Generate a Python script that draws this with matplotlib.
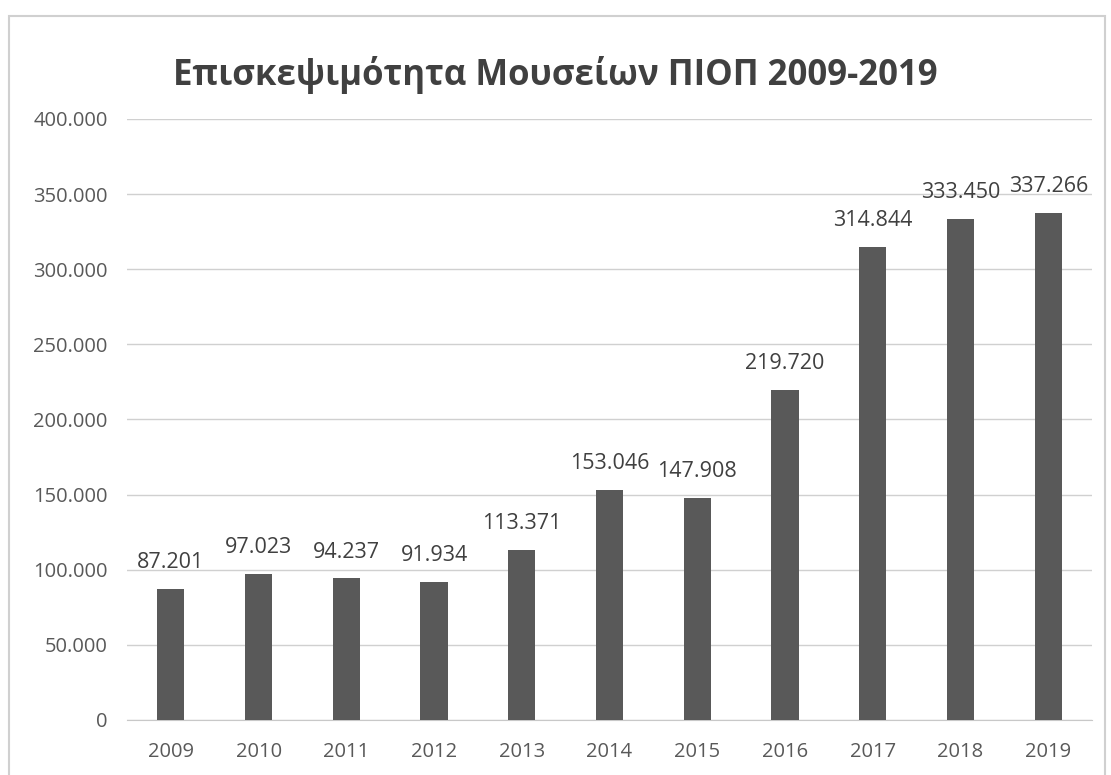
import matplotlib
matplotlib.use("Agg")
import matplotlib.pyplot as plt
from matplotlib.patches import Rectangle
from matplotlib.ticker import FuncFormatter

years = ["2009", "2010", "2011", "2012", "2013", "2014", "2015", "2016", "2017", "2018", "2019"]
visitors = [87201, 97023, 94237, 91934, 113371, 153046, 147908, 219720, 314844, 333450, 337266]
yticks = [0, 50000, 100000, 150000, 200000, 250000, 300000, 350000, 400000]
title = "Επισκεψιμότητα Μουσείων ΠΙΟΠ 2009-2019"


def dot_thousands(v):
    # Greek style: dot as thousands separator
    return f"{int(v):,}".replace(",", ".")


plt.rcParams['font.family'] = ['Open Sans', 'DejaVu Sans']
text_col = "#595959"

fig = plt.figure(figsize=(11.11, 7.75), dpi=100)
ax = fig.add_axes([0.1143, 0.071, 0.8687, 0.7755])

x = range(len(years))
bars = ax.bar(x, visitors, width=0.31, color="#595959", zorder=3)

for xi, v in zip(x, visitors):
    ax.text(xi, v + 10500, dot_thousands(v), ha="center", va="bottom",
            fontsize=15.5, color="#404040")

ax.set_xlim(-0.5, len(years) - 0.5)
ax.set_ylim(0, 400000)
ax.set_yticks(yticks)
ax.yaxis.set_major_formatter(FuncFormatter(lambda v, p: dot_thousands(v)))
ax.set_xticks(list(x))
ax.set_xticklabels(years)
ax.tick_params(axis="both", length=0, labelsize=14.5, labelcolor=text_col, pad=14)
ax.tick_params(axis="x", pad=16)

ax.grid(axis="y", color="#d0d0d0", linewidth=1, zorder=0)
for s in ["top", "right", "left"]:
    ax.spines[s].set_visible(False)
ax.spines["bottom"].set_color("#c8c8c8")

fig.text(0.5, 0.903, title, ha="center", va="center", fontsize=25,
         fontweight="bold", color="#404040")

# outer chart border
fig.patches.append(Rectangle((0.008, -0.01), 0.987, 0.99, transform=fig.transFigure,
                             fill=False, edgecolor="#d0d0d0", linewidth=1.5))

fig.savefig("out.png", dpi=100)
